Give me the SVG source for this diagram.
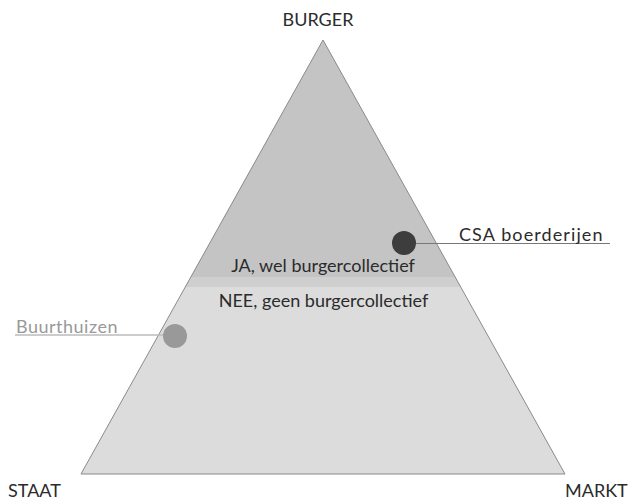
<svg xmlns="http://www.w3.org/2000/svg" width="630" height="501" viewBox="0 0 630 501">
<style>
text{font-family:Lato,"Noto Sans","Liberation Sans",sans-serif;font-size:18px;fill:#2b2b2b}
.c{text-anchor:middle}
</style>
<rect width="630" height="501" fill="#fff"/>
<g id="triangle">
<polygon points="323,40 455.2,277 190.8,277" fill="#c4c4c4"/>
<polygon points="190.8,277 455.2,277 460.7,287 185.3,287" fill="#cfcfcf"/>
<polygon points="185.3,287 460.7,287 565,474 81,474" fill="#dcdcdc"/>
<polygon points="323,40 565,474 81,474" fill="none" stroke="#8a8a8a" stroke-width="1"/>
<text class="c" x="323" y="272" font-size="17.1">JA, wel burgercollectief</text>
<text class="c" x="323.5" y="307" font-size="17.4">NEE, geen burgercollectief</text>
</g>
<g id="labels">
<text class="c" x="318" y="26">BURGER</text>
<text x="8" y="497" font-size="18.7">STAAT</text>
<text x="565" y="497" font-size="18.2">MARKT</text>
</g>
<g id="connectors">
<line x1="404" y1="243.5" x2="610" y2="243.5" stroke="#777" stroke-width="1"/>
<line x1="15" y1="335" x2="175" y2="335" stroke="#bbb" stroke-width="1.5"/>
</g>
<g id="csa">
<circle cx="404" cy="243" r="12" fill="#3d3d3d"/>
<text x="459" y="240.5" font-size="19.8" letter-spacing="1.1" fill="#444">CSA boerderijen</text>
</g>
<g id="buurthuizen">
<circle cx="175" cy="336" r="12" fill="#999"/>
<text x="16" y="332.5" font-size="19.2" letter-spacing="0.5" style="fill:#999">Buurthuizen</text>
</g>
</svg>
